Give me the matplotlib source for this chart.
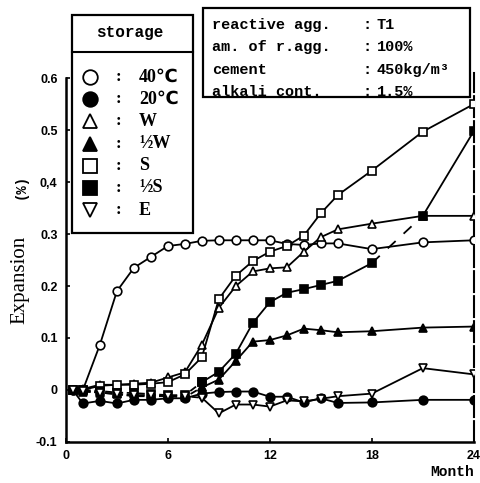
import matplotlib
matplotlib.use("Agg")
import matplotlib.pyplot as plt
from matplotlib.lines import Line2D
from matplotlib.patches import Rectangle

# months of measurement
months = [0.4, 1, 2, 3, 4, 5, 6, 7, 8, 9, 10, 11, 12, 13, 14, 15, 16, 18, 21, 24]

# expansion (%) per storage condition
exp_40c = [0, 0, 0.087, 0.19, 0.235, 0.256, 0.277, 0.281, 0.287, 0.288, 0.288, 0.288,
           0.288, 0.281, 0.279, 0.282, 0.282, 0.271, 0.284, 0.288]
exp_20c = [0, -0.026, -0.021, -0.026, -0.019, -0.019, -0.016, -0.016, -0.007, -0.004,
           -0.003, -0.003, -0.013, -0.013, -0.024, -0.016, -0.025, -0.024, -0.019, -0.019]
exp_w = [0, 0.002, 0.01, 0.01, 0.012, 0.014, 0.024, 0.034, 0.087, 0.158, 0.2, 0.228,
         0.234, 0.236, 0.266, 0.294, 0.309, 0.32, 0.335, 0.335]
exp_hw = [0, -0.003, -0.005, -0.008, -0.012, -0.012, -0.012, -0.014, 0.005, 0.02, 0.056,
          0.093, 0.096, 0.105, 0.118, 0.115, 0.111, 0.113, 0.12, 0.122]
exp_s = [0, 0, 0.008, 0.01, 0.01, 0.012, 0.015, 0.03, 0.063, 0.175, 0.22, 0.248,
         0.266, 0.277, 0.297, 0.34, 0.375, 0.422, 0.497, 0.55]
exp_hs = [0, 0, -0.002, -0.005, -0.006, -0.008, -0.01, -0.01, 0.015, 0.035, 0.07, 0.129,
          0.169, 0.187, 0.194, 0.202, 0.21, 0.244, 0.335, 0.498]
exp_e = [0, -0.002, -0.005, -0.008, -0.01, -0.01, -0.012, -0.012, -0.015, -0.045, -0.028,
         -0.028, -0.032, -0.02, -0.022, -0.017, -0.012, -0.007, 0.042, 0.03]

labels = ["40℃", "20℃", "W", "½W", "S", "½S", "E"]
info_keys = ["reactive agg.", "am. of r.agg.", "cement", "alkali cont."]
info_vals = ["T1", "100%", "450kg/m³", "1.5%"]

x_ticks = [0, 6, 12, 18, 24]
y_ticks = [-0.1, 0, 0.1, 0.2, 0.3, 0.4, 0.5, 0.6]
y_tick_labels = ["-0.1", "0", "0.1", "0.2", "0.3", "0,4", "0.5", "0.6"]

series = [exp_40c, exp_20c, exp_w, exp_hw, exp_s, exp_hs, exp_e]
markers = ["o", "o", "^", "^", "s", "s", "v"]
filled = [False, True, False, True, False, True, False]
dashed_early = [False, False, False, True, False, True, True]

fig = plt.figure(figsize=(4.81, 4.83), dpi=100)
ax = fig.add_axes([0.137, 0.085, 0.848, 0.764])

lw = 1.3
ms = 6.2
n8 = months.index(8) + 1
i18 = months.index(18)
for y, m, f, de in zip(series, markers, filled, dashed_early):
    fc = "black" if f else "white"
    kw = dict(marker=m, markersize=ms, markerfacecolor=fc, markeredgecolor="black",
              markeredgewidth=1.2, color="black", lw=lw, zorder=3)
    if y is exp_hs:
        # broken line between 18 and 21 months
        ax.plot(months[:n8], y[:n8], ls=(0, (4, 2)), **kw)
        ax.plot(months[n8 - 1:i18 + 1], y[n8 - 1:i18 + 1], ls="-", **kw)
        ax.plot(months[i18 + 1:], y[i18 + 1:], ls="-", **kw)
        ax.plot(months[i18:i18 + 2], y[i18:i18 + 2], ls=(0, (6, 6)), color="black",
                lw=lw, zorder=2)
    elif de:
        ax.plot(months[:n8], y[:n8], ls=(0, (4, 2)), **kw)
        ax.plot(months[n8 - 1:], y[n8 - 1:], ls="-", **kw)
    else:
        ax.plot(months, y, ls="-", **kw)

ax.set_xlim(0, 24)
ax.set_ylim(-0.1, 0.61)
ax.set_xticks(x_ticks)
ax.set_xticklabels([str(t) for t in x_ticks])
ax.set_yticks(y_ticks)
ax.set_yticklabels(y_tick_labels)
ax.tick_params(direction="in", length=3, width=1.2, labelsize=9, pad=6)
for lab in ax.get_xticklabels() + ax.get_yticklabels():
    lab.set_fontweight("bold")
    lab.set_family("Liberation Sans")

ax.spines["top"].set_visible(False)
ax.spines["left"].set_linewidth(1.8)
ax.spines["bottom"].set_linewidth(1.8)
ax.spines["right"].set_linewidth(1.5)
ax.spines["right"].set_linestyle((0, (10, 2)))
ax.spines["left"].set_bounds(-0.1, 0.6)

# axis labels
fig.text(0.042, 0.42, "Expansion", rotation=90, ha="center", va="center",
         fontsize=15, family="Liberation Serif")
fig.text(0.042, 0.615, "(%)", rotation=90, ha="center", va="center",
         fontsize=10, family="Liberation Mono", fontweight="bold")
fig.text(0.94, 0.022, "Month", ha="center", va="center", fontsize=10.5,
         family="Liberation Mono", fontweight="bold")

# storage legend box
box = Rectangle((72 / 481, 1 - 233 / 483), 121 / 481, 218 / 483, transform=fig.transFigure,
                fill=False, lw=1.6, color="black")
fig.add_artist(box)
fig.add_artist(Line2D([72 / 481, 193 / 481], [1 - 52 / 483, 1 - 52 / 483],
                      transform=fig.transFigure, color="black", lw=1.5))
fig.text(130 / 481, 1 - 33 / 483, "storage", ha="center", va="center", fontsize=11.5,
         family="Liberation Mono", fontweight="bold")
for i, (lab, m, f) in enumerate(zip(labels, markers, filled)):
    yy = 1 - (77 + i * 22.2) / 483
    fig.add_artist(Line2D([90 / 481], [yy], transform=fig.transFigure, marker=m,
                          markersize=10.5, markerfacecolor="black" if f else "white",
                          markeredgecolor="black", markeredgewidth=1.3, ls="none"))
    fig.text(118 / 481, yy, ":", ha="center", va="center", fontsize=12, fontweight="bold",
             family="Liberation Serif")
    fig.text(139 / 481, yy, lab, ha="left", va="center", fontsize=13, fontweight="bold",
             family=["Liberation Serif", "DejaVu Sans"])

# conditions box
box2 = Rectangle((203 / 481, 1 - 97 / 483), 267 / 481, 89 / 483, transform=fig.transFigure,
                 fill=False, lw=1.6, color="black")
fig.add_artist(box2)
for i, (k, v) in enumerate(zip(info_keys, info_vals)):
    yy = 1 - (25 + i * 22.3) / 483
    fig.text(212 / 481, yy, k, ha="left", va="center", fontsize=11,
             family="Liberation Mono", fontweight="bold")
    fig.text(367 / 481, yy, ":", ha="center", va="center", fontsize=11,
             family="Liberation Mono", fontweight="bold")
    fig.text(377 / 481, yy, v, ha="left", va="center", fontsize=11,
             family=["Liberation Mono", "DejaVu Sans"], fontweight="bold")

fig.savefig("out.png", dpi=100)
